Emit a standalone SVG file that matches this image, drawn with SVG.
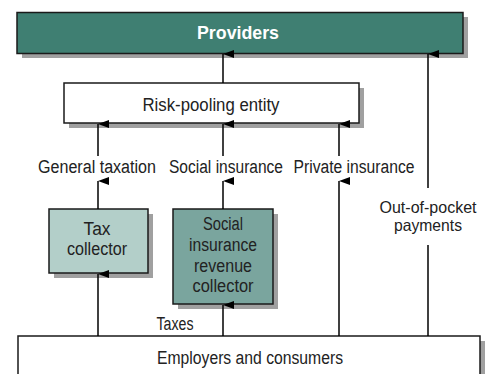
<svg xmlns="http://www.w3.org/2000/svg" width="485" height="374" viewBox="0 0 485 374">
<defs>
<marker id="ah" viewBox="0 0 8 11" refX="4" refY="0" markerWidth="8" markerHeight="11" markerUnits="userSpaceOnUse" orient="auto-start-reverse">
<path d="M0,11 L4,0 L8,11 Z" fill="#000"/>
</marker>
</defs>
<style>
.t{font-family:"Liberation Sans",Arial,sans-serif;font-size:18px;fill:#222;text-anchor:middle}
.s{font-size:16.5px}
.b{stroke:#1a1a1a;stroke-width:1.5}
.sh{fill:#a0a0a0}
.c{stroke:#000;stroke-width:1.5;fill:none}
</style>
<rect width="485" height="374" fill="#fff"/>
<g id="providers">
<rect class="sh" x="22" y="17" width="446" height="41"/>
<rect class="b" x="17" y="12.5" width="446" height="41" fill="#3f7f72"/>
<text class="t" x="238" y="39" style="fill:#fff;font-weight:bold" textLength="82" lengthAdjust="spacingAndGlyphs">Providers</text>
</g>
<g id="riskpool">
<rect class="sh" x="69" y="88" width="295" height="40"/>
<rect class="b" x="64" y="83" width="295" height="40" fill="#fff"/>
<text class="t" x="211" y="111" textLength="137" lengthAdjust="spacingAndGlyphs">Risk-pooling entity</text>
</g>
<g id="taxcollector">
<rect class="sh" x="54" y="214" width="99" height="64"/>
<rect class="b" x="49" y="209" width="99" height="64" fill="#b3cfc9"/>
<text class="t" x="97" y="235" textLength="27" lengthAdjust="spacingAndGlyphs">Tax</text>
<text class="t" x="97" y="255" textLength="60" lengthAdjust="spacingAndGlyphs">collector</text>
</g>
<g id="sicollector">
<rect class="sh" x="178" y="214" width="100" height="95"/>
<rect class="b" x="173" y="209" width="100" height="95" fill="#7aa59e"/>
<text class="t" x="223" y="230" textLength="40" lengthAdjust="spacingAndGlyphs">Social</text>
<text class="t" x="223" y="251" textLength="68" lengthAdjust="spacingAndGlyphs">insurance</text>
<text class="t" x="223" y="272" textLength="58" lengthAdjust="spacingAndGlyphs">revenue</text>
<text class="t" x="223" y="292" textLength="61" lengthAdjust="spacingAndGlyphs">collector</text>
</g>
<g id="employers">
<rect class="sh" x="23" y="341" width="462" height="40"/>
<rect class="b" x="18" y="336" width="462" height="45" fill="#fff"/>
<text class="t" x="250" y="364" textLength="186" lengthAdjust="spacingAndGlyphs">Employers and consumers</text>
</g>
<g id="labels">
<text class="t" x="97" y="173" textLength="118" lengthAdjust="spacingAndGlyphs">General taxation</text>
<text class="t" x="226" y="173" textLength="114" lengthAdjust="spacingAndGlyphs">Social insurance</text>
<text class="t" x="354" y="173" textLength="121" lengthAdjust="spacingAndGlyphs">Private insurance</text>
<text class="t s" x="428" y="212.5" textLength="97" lengthAdjust="spacingAndGlyphs">Out-of-pocket</text>
<text class="t s" x="428" y="231" textLength="68" lengthAdjust="spacingAndGlyphs">payments</text>
<text class="t" x="175" y="330" textLength="37" lengthAdjust="spacingAndGlyphs">Taxes</text>
</g>
<g id="connectors">
<line class="c" x1="223" y1="83" x2="223" y2="54" marker-end="url(#ah)"/>
<line class="c" x1="98" y1="156" x2="98" y2="124" marker-end="url(#ah)"/>
<line class="c" x1="223" y1="156" x2="223" y2="124" marker-end="url(#ah)"/>
<line class="c" x1="339" y1="156" x2="339" y2="124" marker-end="url(#ah)"/>
<line class="c" x1="98" y1="209" x2="98" y2="181" marker-end="url(#ah)"/>
<line class="c" x1="223" y1="209" x2="223" y2="181" marker-end="url(#ah)"/>
<line class="c" x1="98" y1="336" x2="98" y2="274" marker-end="url(#ah)"/>
<line class="c" x1="223" y1="336" x2="223" y2="305" marker-end="url(#ah)"/>
<line class="c" x1="339" y1="336" x2="339" y2="181" marker-end="url(#ah)"/>
<line class="c" x1="428" y1="336" x2="428" y2="245"/>
<line class="c" x1="428" y1="188" x2="428" y2="54" marker-end="url(#ah)"/>
</g>
</svg>
